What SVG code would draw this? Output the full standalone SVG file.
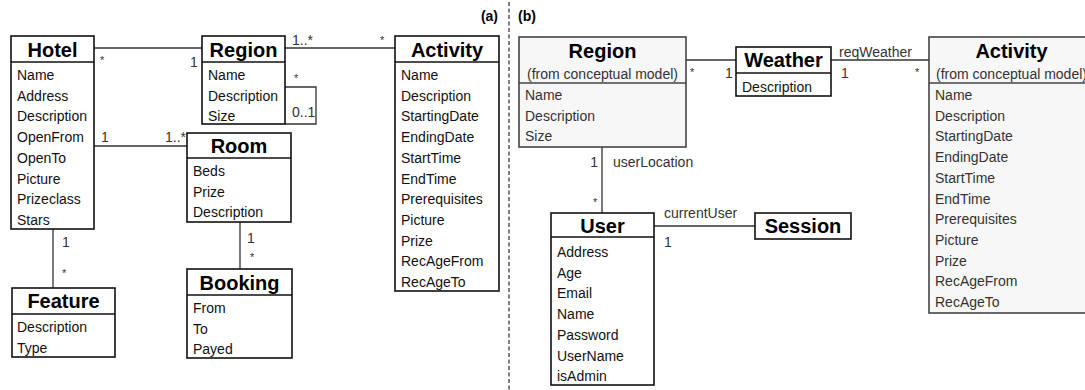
<svg xmlns="http://www.w3.org/2000/svg" width="1085" height="390" viewBox="0 0 1085 390">
<style>
text{font-family:"Liberation Sans",Arial,sans-serif;}
.box{fill:#fff;stroke:#111;stroke-width:1.6;}
.gbox{fill:#f7f7f7;stroke:#444;stroke-width:1.6;}
.div{stroke:#111;stroke-width:1.6;}
.gdiv{stroke:#444;stroke-width:1.6;}
.t{font-size:20px;font-weight:bold;text-anchor:middle;fill:#000;}
.a{font-size:14px;fill:#111;}
.ga{font-size:14px;fill:#333;}
.sub{font-size:14px;fill:#333;text-anchor:middle;}
.m{font-size:14px;fill:#333;}
.s{font-size:11px;fill:#333;}
.lbl{font-size:14px;fill:#333;}
.conn line,.conn polyline{stroke:#333;stroke-width:1.3;fill:none;}
.sec{font-size:14px;font-weight:bold;fill:#000;}
</style>

<line x1="509" y1="2" x2="509" y2="390" stroke="#555" stroke-width="1.5" stroke-dasharray="4,2.5"/>
<text class="sec" x="498" y="21" text-anchor="end">(a)</text>
<text class="sec" x="518" y="21">(b)</text>

<g class="conn">
  <line x1="94" y1="48" x2="202" y2="48"/>
  <line x1="285" y1="48" x2="395" y2="48"/>
  <polyline points="285,87 316,87 316,124 285,124"/>
  <line x1="94" y1="146" x2="187" y2="146"/>
  <line x1="240" y1="222" x2="240" y2="269"/>
  <line x1="53" y1="229" x2="53" y2="288"/>
  <line x1="686" y1="60" x2="736" y2="60"/>
  <line x1="831" y1="60" x2="929" y2="60"/>
  <line x1="602" y1="147" x2="602" y2="213"/>
  <line x1="654" y1="226" x2="755" y2="226"/>
  <text class="s" x="100" y="64">*</text>
  <text class="m" x="190" y="67">1</text>
  <text class="m" x="292" y="45">1..*</text>
  <text class="s" x="380" y="44">*</text>
  <text class="s" x="294" y="82">*</text>
  <text class="m" x="292" y="117">0..1</text>
  <text class="m" x="101" y="142">1</text>
  <text class="m" x="165" y="142">1..*</text>
  <text class="m" x="247" y="243">1</text>
  <text class="s" x="250" y="261">*</text>
  <text class="m" x="62" y="247">1</text>
  <text class="s" x="62" y="277">*</text>
  <text class="s" x="690" y="76">*</text>
  <text class="m" x="725" y="78">1</text>
  <text class="lbl" x="839" y="57">reqWeather</text>
  <text class="m" x="841" y="78">1</text>
  <text class="s" x="915" y="76">*</text>
  <text class="m" x="598" y="167" text-anchor="end">1</text>
  <text class="lbl" x="613" y="167">userLocation</text>
  <text class="s" x="593" y="206">*</text>
  <text class="lbl" x="664" y="218">currentUser</text>
  <text class="m" x="664" y="247">1</text>
</g>

<g id="hotel">
  <rect class="box" x="11" y="36" width="83" height="193"/>
  <line class="div" x1="11" y1="62" x2="94" y2="62"/>
  <text class="t" x="52.5" y="57">Hotel</text>
  <text class="a" x="17" y="80">Name</text>
  <text class="a" x="17" y="100.7">Address</text>
  <text class="a" x="17" y="121.4">Description</text>
  <text class="a" x="17" y="142.1">OpenFrom</text>
  <text class="a" x="17" y="162.8">OpenTo</text>
  <text class="a" x="17" y="183.5">Picture</text>
  <text class="a" x="17" y="204.2">Prizeclass</text>
  <text class="a" x="17" y="224.9">Stars</text>
</g>

<g id="region-a">
  <rect class="box" x="202" y="36" width="83" height="88"/>
  <line class="div" x1="202" y1="62" x2="285" y2="62"/>
  <text class="t" x="243.5" y="57">Region</text>
  <text class="a" x="208" y="80">Name</text>
  <text class="a" x="208" y="100.7">Description</text>
  <text class="a" x="208" y="121.4">Size</text>
</g>

<g id="activity-a">
  <rect class="box" x="395" y="36" width="104" height="255"/>
  <line class="div" x1="395" y1="62" x2="499" y2="62"/>
  <text class="t" x="447" y="57">Activity</text>
  <text class="a" x="401" y="80">Name</text>
  <text class="a" x="401" y="100.7">Description</text>
  <text class="a" x="401" y="121.4">StartingDate</text>
  <text class="a" x="401" y="142.1">EndingDate</text>
  <text class="a" x="401" y="162.8">StartTime</text>
  <text class="a" x="401" y="183.5">EndTime</text>
  <text class="a" x="401" y="204.2">Prerequisites</text>
  <text class="a" x="401" y="224.9">Picture</text>
  <text class="a" x="401" y="245.6">Prize</text>
  <text class="a" x="401" y="266.3">RecAgeFrom</text>
  <text class="a" x="401" y="287">RecAgeTo</text>
</g>

<g id="room">
  <rect class="box" x="187" y="133" width="104" height="89"/>
  <line class="div" x1="187" y1="158" x2="291" y2="158"/>
  <text class="t" x="239" y="153">Room</text>
  <text class="a" x="193" y="176">Beds</text>
  <text class="a" x="193" y="196.7">Prize</text>
  <text class="a" x="193" y="217.4">Description</text>
</g>

<g id="booking">
  <rect class="box" x="187" y="269" width="105" height="89"/>
  <line class="div" x1="187" y1="295" x2="292" y2="295"/>
  <text class="t" x="239.5" y="290">Booking</text>
  <text class="a" x="193" y="313">From</text>
  <text class="a" x="193" y="333.7">To</text>
  <text class="a" x="193" y="354.4">Payed</text>
</g>

<g id="feature">
  <rect class="box" x="12" y="288" width="103" height="69"/>
  <line class="div" x1="12" y1="314" x2="115" y2="314"/>
  <text class="t" x="63.5" y="308">Feature</text>
  <text class="a" x="17" y="332">Description</text>
  <text class="a" x="17" y="352.7">Type</text>
</g>

<g id="region-b">
  <rect class="gbox" x="519" y="37" width="167" height="110"/>
  <line class="gdiv" x1="519" y1="83" x2="686" y2="83"/>
  <text class="t" x="602.5" y="58">Region</text>
  <text class="sub" x="602.5" y="79">(from conceptual model)</text>
  <text class="ga" x="525" y="100">Name</text>
  <text class="ga" x="525" y="120.7">Description</text>
  <text class="ga" x="525" y="141.4">Size</text>
</g>

<g id="weather">
  <rect class="box" x="736" y="47" width="95" height="49"/>
  <line class="div" x1="736" y1="73" x2="831" y2="73"/>
  <text class="t" x="783.5" y="67">Weather</text>
  <text class="a" x="742" y="92">Description</text>
</g>

<g id="activity-b">
  <rect class="gbox" x="929" y="37" width="166" height="276"/>
  <line class="gdiv" x1="929" y1="83" x2="1095" y2="83"/>
  <text class="t" x="1011.5" y="58">Activity</text>
  <text class="sub" x="1011.5" y="79">(from conceptual model)</text>
  <text class="ga" x="935" y="100">Name</text>
  <text class="ga" x="935" y="120.7">Description</text>
  <text class="ga" x="935" y="141.4">StartingDate</text>
  <text class="ga" x="935" y="162.1">EndingDate</text>
  <text class="ga" x="935" y="182.8">StartTime</text>
  <text class="ga" x="935" y="203.5">EndTime</text>
  <text class="ga" x="935" y="224.2">Prerequisites</text>
  <text class="ga" x="935" y="244.9">Picture</text>
  <text class="ga" x="935" y="265.6">Prize</text>
  <text class="ga" x="935" y="286.3">RecAgeFrom</text>
  <text class="ga" x="935" y="307">RecAgeTo</text>
</g>

<g id="user">
  <rect class="box" x="551" y="213" width="103" height="172"/>
  <line class="div" x1="551" y1="237" x2="654" y2="237"/>
  <text class="t" x="602.5" y="233">User</text>
  <text class="a" x="557" y="257">Address</text>
  <text class="a" x="557" y="277.7">Age</text>
  <text class="a" x="557" y="298.4">Email</text>
  <text class="a" x="557" y="319.1">Name</text>
  <text class="a" x="557" y="339.8">Password</text>
  <text class="a" x="557" y="360.5">UserName</text>
  <text class="a" x="557" y="381.2">isAdmin</text>
</g>

<g id="session">
  <rect class="box" x="755" y="213" width="96" height="26"/>
  <text class="t" x="803" y="233">Session</text>
</g>
</svg>
